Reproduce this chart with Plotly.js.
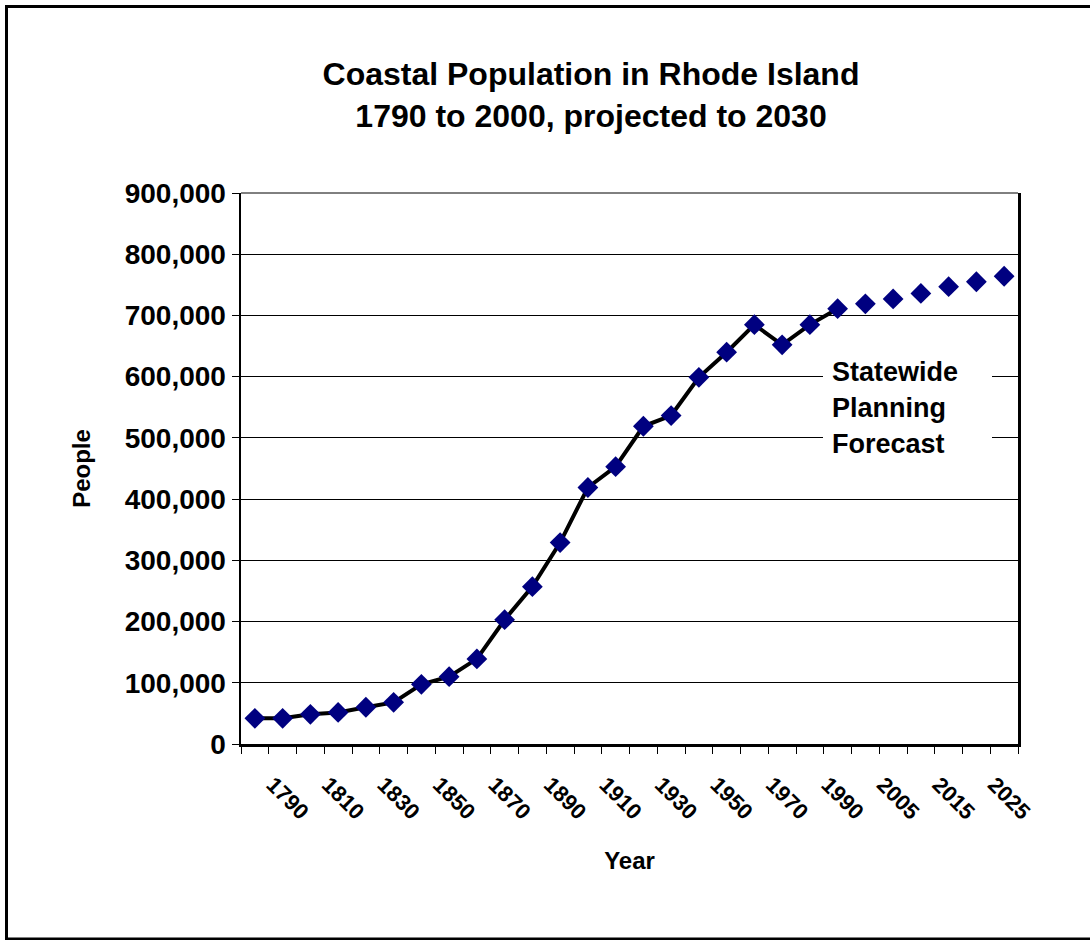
<!DOCTYPE html>
<html>
<head>
<meta charset="utf-8">
<script src="https://cdn.plot.ly/plotly-3.0.1.min.js"></script>
<style>html,body{margin:0;padding:0;background:#fff;}#chart{width:1090px;height:940px;}</style>
</head>
<body>
<div id="chart"></div>
<script>
// Census years (actual) and forecast years
const histYears = ["1790","1800","1810","1820","1830","1840","1850","1860","1870","1880","1890","1900","1910","1920","1930","1940","1950","1960","1970","1980","1990","2000"];
const histPeople = [42000,42000,48500,51500,60000,68000,97500,110000,139000,203000,257000,329000,419000,453000,519000,536500,599000,640000,685000,652000,685000,711000];
const forecastYears = ["2005","2010","2015","2020","2025","2030"];
const forecastPeople = [719000,727000,736000,747000,755000,764000];
const allYears = histYears.concat(forecastYears);
// label every other category
const tickLabels = allYears.map((y, i) => (i % 2 === 0 ? y : ""));

const FONT = "Liberation Sans, Arial, sans-serif";

// helpers to place in paper coords from pixel positions of plot area
const L = 241, R = 1018, T = 193, B = 744;
const px = x => (x - L) / (R - L);
const py = y => (B - y) / (B - T);

const traces = [
  {
    x: histYears, y: histPeople, type: "scatter", mode: "lines+markers",
    line: {color: "#000000", width: 4},
    marker: {symbol: "diamond", size: 16, color: "#000080", line: {width: 0}},
    hoverinfo: "x+y", showlegend: false, cliponaxis: false
  },
  {
    x: forecastYears, y: forecastPeople, type: "scatter", mode: "markers",
    marker: {symbol: "diamond", size: 16, color: "#000080", line: {width: 0}},
    hoverinfo: "x+y", showlegend: false, cliponaxis: false
  }
];

const layout = {
  width: 1090, height: 940,
  paper_bgcolor: "#ffffff", plot_bgcolor: "#ffffff",
  margin: {l: L, r: 1090 - R, t: T, b: 940 - B},
  font: {family: FONT, color: "#000000"},
  showlegend: false,
  title: {
    text: "<b>Coastal Population in Rhode Island<br>1790 to 2000, projected to 2030</b>",
    font: {family: FONT, size: 32, color: "#000"},
    x: 591 / 1090, xanchor: "center", xref: "container",
    y: 1 - 85 / 940, yanchor: "middle", yref: "container"
  },
  xaxis: {
    type: "category",
    categoryorder: "array", categoryarray: allYears,
    tickmode: "array", tickvals: allYears, ticktext: tickLabels,
    tickson: "boundaries",
    ticks: "outside", ticklen: 7, tickwidth: 1, tickcolor: "#000",
    tickangle: 45,
    ticklabelstandoff: 16, ticklabelshift: 18,
    tickfont: {family: FONT, size: 22, weight: "bold", color: "#000"},
    showgrid: false, zeroline: false,
    showline: true, linecolor: "#000", linewidth: 3,
    range: [-0.5, 27.5],
    title: {text: "<b>Year</b>", font: {family: FONT, size: 24, color: "#000"}, standoff: 29}
  },
  yaxis: {
    range: [0, 900000], dtick: 100000, tick0: 0,
    tickformat: ",d",
    ticks: "outside", ticklen: 7, tickwidth: 1, tickcolor: "#000",
    tickfont: {family: FONT, size: 28, weight: "bold", color: "#000"},
    showgrid: true, gridcolor: "#000", gridwidth: 1,
    zeroline: false,
    showline: true, mirror: true, linecolor: "#000", linewidth: 2.5,
    title: {text: "<b>People</b>", font: {family: FONT, size: 24, color: "#000"}, standoff: 28}
  },
  shapes: [
    // outer chart border
    {type: "rect", xref: "paper", yref: "paper",
     x0: px(6.5), x1: px(1100), y0: py(939), y1: py(6.5),
     line: {color: "#000", width: 3}, fillcolor: "rgba(0,0,0,0)", layer: "above"},
    // top frame line
    {type: "line", xref: "paper", yref: "paper", x0: 0, x1: 1, y0: 1, y1: 1,
     line: {color: "#000", width: 1}, layer: "above"},
    // white box behind forecast label
    {type: "rect", xref: "paper", yref: "paper",
     x0: px(823), x1: px(992), y0: py(460), y1: py(352),
     line: {width: 0}, fillcolor: "#ffffff", layer: "above"}
  ],
  annotations: [
    {text: "<b>Statewide</b>", xref: "paper", yref: "paper", x: px(830), y: py(372), xanchor: "left", yanchor: "middle", showarrow: false, font: {family: FONT, size: 27, color: "#000"}},
    {text: "<b>Planning</b>", xref: "paper", yref: "paper", x: px(830), y: py(408), xanchor: "left", yanchor: "middle", showarrow: false, font: {family: FONT, size: 27, color: "#000"}},
    {text: "<b>Forecast</b>", xref: "paper", yref: "paper", x: px(830), y: py(444), xanchor: "left", yanchor: "middle", showarrow: false, font: {family: FONT, size: 27, color: "#000"}}
  ]
};

Plotly.newPlot("chart", traces, layout, {displayModeBar: false, staticPlot: true});
</script>
</body>
</html>
